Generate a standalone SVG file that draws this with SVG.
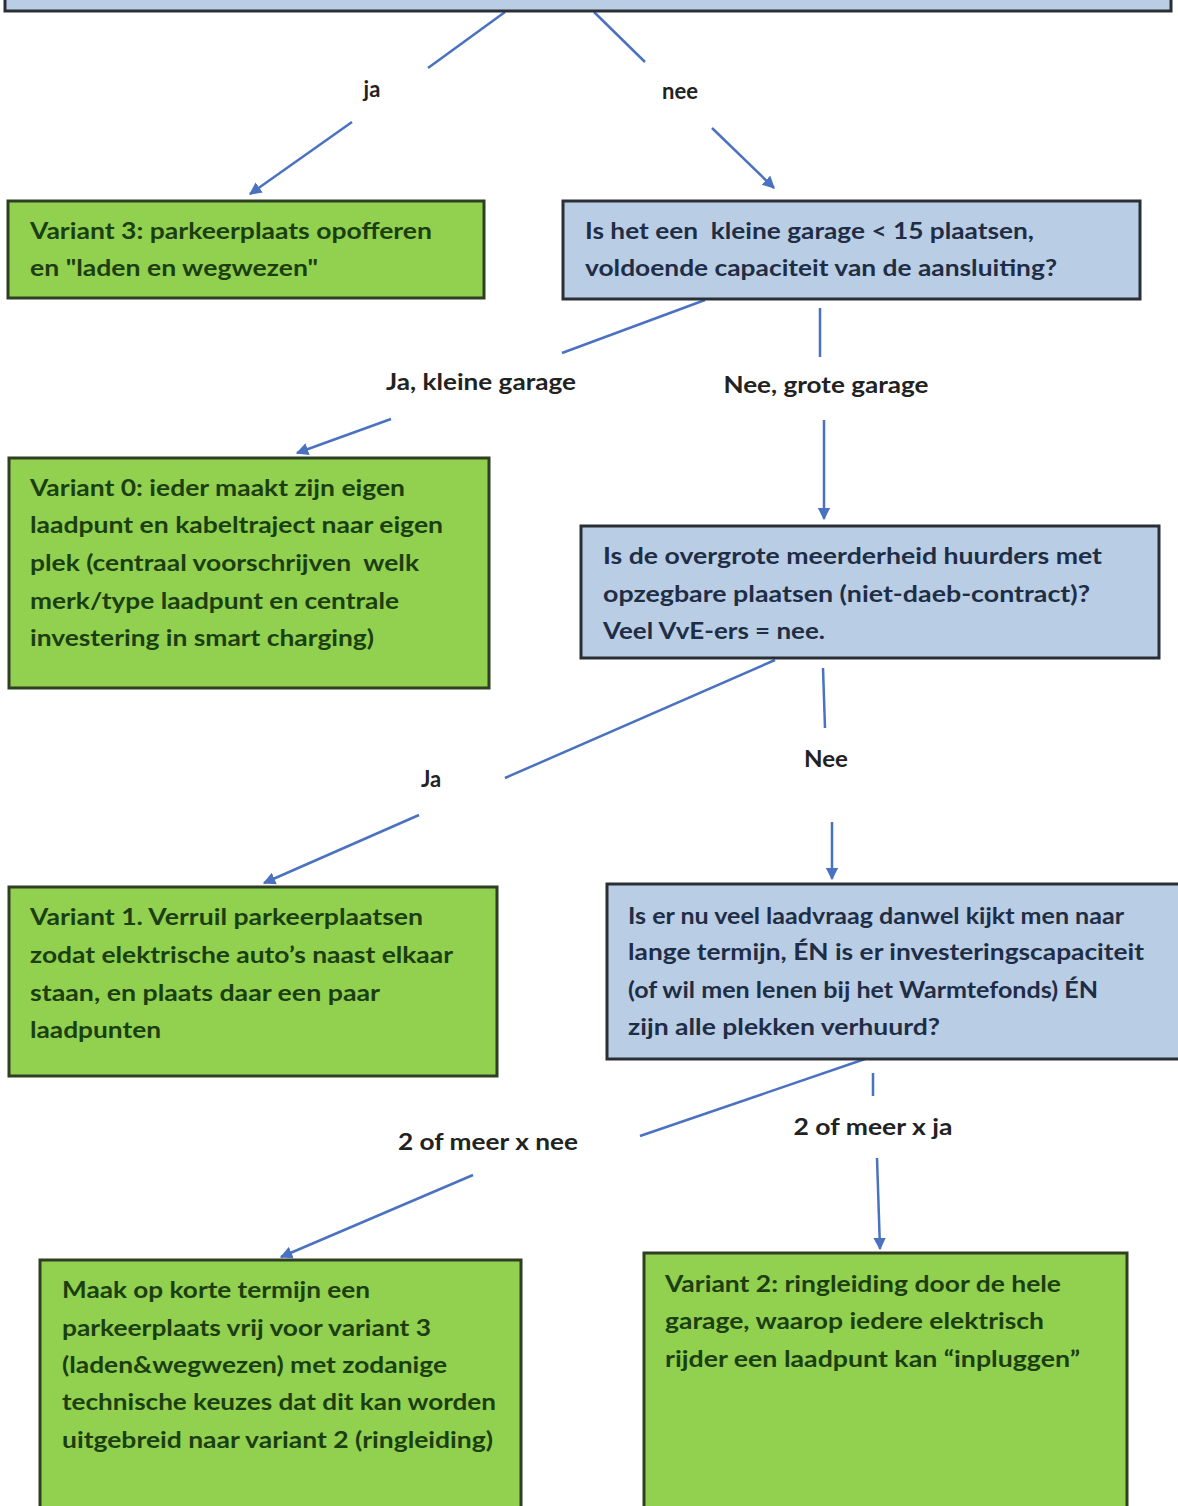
<svg xmlns="http://www.w3.org/2000/svg" width="1178" height="1506" viewBox="0 0 1178 1506">
<defs>
<style>
.q{fill:#b9cde5;stroke:#2a2f36;stroke-width:3}
.v{fill:#92d050;stroke:#2f3f22;stroke-width:3}
.qt{font-family:Lato,"Liberation Sans",sans-serif;font-size:23px;font-weight:bold;fill:#1f2d45}
.vt{font-family:Lato,"Liberation Sans",sans-serif;font-size:23px;font-weight:bold;fill:#1b3f10}
.lb{font-family:Lato,"Liberation Sans",sans-serif;font-size:22px;font-weight:bold;fill:#222;text-anchor:middle}
.c{stroke:#4a72c0;stroke-width:2.5;fill:none}
.a{stroke:#4a72c0;stroke-width:2.5;fill:none;marker-end:url(#ah)}
</style>
<marker id="ah" viewBox="0 0 10 10" refX="9" refY="5" markerWidth="5" markerHeight="5" orient="auto" markerUnits="strokeWidth">
<path d="M0,0 L10,5 L0,10 z" fill="#4a72c0"/>
</marker>
</defs>
<rect width="1178" height="1506" fill="#ffffff"/>

<g id="connectors">
<line class="c" x1="505" y1="12" x2="428" y2="68"/>
<line class="a" x1="352" y1="122" x2="250" y2="194"/>
<line class="c" x1="594" y1="12" x2="645" y2="62"/>
<line class="a" x1="712" y1="128" x2="774" y2="188"/>
<line class="c" x1="705" y1="300" x2="562" y2="353"/>
<line class="a" x1="391" y1="419" x2="297" y2="453"/>
<line class="c" x1="820" y1="308" x2="820" y2="357"/>
<line class="a" x1="824" y1="420" x2="824" y2="519"/>
<line class="c" x1="775" y1="660" x2="505" y2="778"/>
<line class="a" x1="419" y1="815" x2="264" y2="883"/>
<line class="c" x1="823" y1="668" x2="825" y2="728"/>
<line class="a" x1="832" y1="822" x2="832" y2="879"/>
<line class="c" x1="865" y1="1059" x2="640" y2="1136"/>
<line class="a" x1="473" y1="1175" x2="281" y2="1257"/>
<line class="c" x1="873" y1="1073" x2="873" y2="1096"/>
<line class="a" x1="877" y1="1158" x2="880" y2="1249"/>
<text class="lb" x="372" y="97">ja</text>
<text class="lb" x="680" y="99">nee</text>
<text class="lb" x="481" y="390" textLength="190" lengthAdjust="spacingAndGlyphs">Ja, kleine garage</text>
<text class="lb" x="826" y="393" textLength="205" lengthAdjust="spacingAndGlyphs">Nee, grote garage</text>
<text class="lb" x="431" y="787">Ja</text>
<text class="lb" x="826" y="767" textLength="44" lengthAdjust="spacingAndGlyphs">Nee</text>
<text class="lb" x="488" y="1150" textLength="180" lengthAdjust="spacingAndGlyphs">2 of meer x nee</text>
<text class="lb" x="873" y="1135" textLength="159" lengthAdjust="spacingAndGlyphs">2 of meer x ja</text>
</g>

<g id="q0">
<rect class="q" x="5" y="-50" width="1166" height="61"/>
</g>

<g id="variant3">
<rect class="v" x="8" y="201" width="476" height="97"/>
<text class="vt" x="30" y="239" textLength="402" lengthAdjust="spacingAndGlyphs">Variant 3: parkeerplaats opofferen</text>
<text class="vt" x="30" y="276" textLength="288" lengthAdjust="spacingAndGlyphs">en "laden en wegwezen"</text>
</g>

<g id="q1">
<rect class="q" x="563" y="201" width="577" height="98"/>
<text class="qt" x="585" y="239" textLength="449" lengthAdjust="spacingAndGlyphs" xml:space="preserve">Is het een  kleine garage &lt; 15 plaatsen,</text>
<text class="qt" x="585" y="276" textLength="472" lengthAdjust="spacingAndGlyphs">voldoende capaciteit van de aansluiting?</text>
</g>

<g id="variant0">
<rect class="v" x="9" y="458" width="480" height="230"/>
<text class="vt" x="30" y="496" textLength="375" lengthAdjust="spacingAndGlyphs">Variant 0: ieder maakt zijn eigen</text>
<text class="vt" x="30" y="533" textLength="413" lengthAdjust="spacingAndGlyphs">laadpunt en kabeltraject naar eigen</text>
<text class="vt" x="30" y="571" textLength="389" lengthAdjust="spacingAndGlyphs" xml:space="preserve">plek (centraal voorschrijven  welk</text>
<text class="vt" x="30" y="609" textLength="369" lengthAdjust="spacingAndGlyphs">merk/type laadpunt en centrale</text>
<text class="vt" x="30" y="646" textLength="344" lengthAdjust="spacingAndGlyphs">investering in smart charging)</text>
</g>

<g id="q2">
<rect class="q" x="581" y="526" width="578" height="132"/>
<text class="qt" x="603" y="564" textLength="499" lengthAdjust="spacingAndGlyphs">Is de overgrote meerderheid huurders met</text>
<text class="qt" x="603" y="602" textLength="487" lengthAdjust="spacingAndGlyphs">opzegbare plaatsen (niet-daeb-contract)?</text>
<text class="qt" x="603" y="639" textLength="222" lengthAdjust="spacingAndGlyphs">Veel VvE-ers = nee.</text>
</g>

<g id="variant1">
<rect class="v" x="9" y="887" width="488" height="189"/>
<text class="vt" x="30" y="925" textLength="393" lengthAdjust="spacingAndGlyphs">Variant 1. Verruil parkeerplaatsen</text>
<text class="vt" x="30" y="963" textLength="423" lengthAdjust="spacingAndGlyphs">zodat elektrische auto’s naast elkaar</text>
<text class="vt" x="30" y="1001" textLength="350" lengthAdjust="spacingAndGlyphs">staan, en plaats daar een paar</text>
<text class="vt" x="30" y="1038" textLength="131" lengthAdjust="spacingAndGlyphs">laadpunten</text>
</g>

<g id="q3">
<rect class="q" x="607" y="884" width="590" height="175"/>
<text class="qt" x="628" y="924" textLength="496" lengthAdjust="spacingAndGlyphs">Is er nu veel laadvraag danwel kijkt men naar</text>
<text class="qt" x="628" y="960" textLength="516" lengthAdjust="spacingAndGlyphs">lange termijn, ÉN is er investeringscapaciteit</text>
<text class="qt" x="628" y="998" textLength="470" lengthAdjust="spacingAndGlyphs">(of wil men lenen bij het Warmtefonds) ÉN</text>
<text class="qt" x="628" y="1035" textLength="312" lengthAdjust="spacingAndGlyphs">zijn alle plekken verhuurd?</text>
</g>

<g id="short-term">
<rect class="v" x="40" y="1260" width="481" height="270"/>
<text class="vt" x="62" y="1298" textLength="308" lengthAdjust="spacingAndGlyphs">Maak op korte termijn een</text>
<text class="vt" x="62" y="1336" textLength="369" lengthAdjust="spacingAndGlyphs">parkeerplaats vrij voor variant 3</text>
<text class="vt" x="62" y="1373" textLength="385" lengthAdjust="spacingAndGlyphs">(laden&amp;wegwezen) met zodanige</text>
<text class="vt" x="62" y="1410" textLength="434" lengthAdjust="spacingAndGlyphs">technische keuzes dat dit kan worden</text>
<text class="vt" x="62" y="1448" textLength="431" lengthAdjust="spacingAndGlyphs">uitgebreid naar variant 2 (ringleiding)</text>
</g>

<g id="variant2">
<rect class="v" x="644" y="1253" width="483" height="280"/>
<text class="vt" x="665" y="1292" textLength="396" lengthAdjust="spacingAndGlyphs">Variant 2: ringleiding door de hele</text>
<text class="vt" x="665" y="1329" textLength="379" lengthAdjust="spacingAndGlyphs">garage, waarop iedere elektrisch</text>
<text class="vt" x="665" y="1367" textLength="415" lengthAdjust="spacingAndGlyphs">rijder een laadpunt kan “inpluggen”</text>
</g>
</svg>
